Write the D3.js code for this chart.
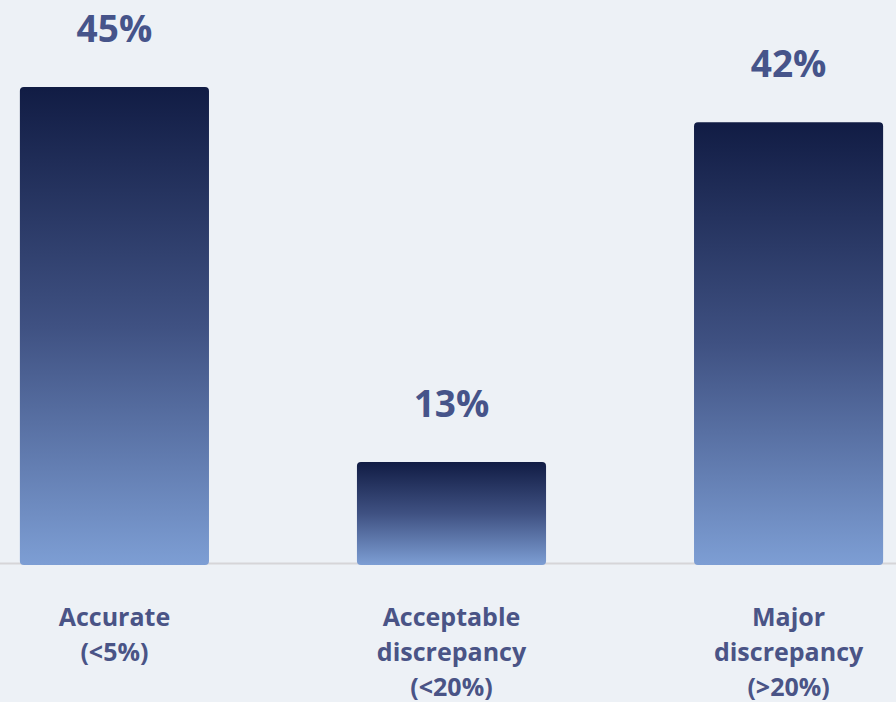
<!DOCTYPE html>
<html>
<head>
<meta charset="utf-8">
<script src="https://cdn.jsdelivr.net/npm/d3@7"></script>
<style>
  html, body { margin: 0; padding: 0; background: #edf1f6; }
  svg { display: block; }
  .value { font-family: "Open Sans", Lato, sans-serif; font-weight: 700; fill: #46548a; }
  .cat { font-family: "Open Sans", Lato, sans-serif; font-weight: 700; fill: #4a5486; }
</style>
</head>
<body>
<script>
var width = 896;
var height = 702;

// data
var categories = ["Accurate", "Acceptable discrepancy", "Major discrepancy"];
var values = [45, 13, 42];
var valueLabels = ["45%", "13%", "42%"];
var catLines = [
    ["Accurate", "(<5%)"],
    ["Acceptable", "discrepancy", "(<20%)"],
    ["Major", "discrepancy", "(>20%)"]
];

var baseline = 565;

var svg = d3.select("body")
    .append("svg")
    .attr("width", width)
    .attr("height", height);

svg.append("rect")
    .attr("width", width)
    .attr("height", height)
    .attr("fill", "#edf1f6");

var defs = svg.append("defs");
var grad = defs.append("linearGradient")
    .attr("id", "barGrad")
    .attr("x1", 0).attr("y1", 0)
    .attr("x2", 0).attr("y2", 1);
grad.append("stop").attr("offset", "0%").attr("stop-color", "#111c44");
grad.append("stop").attr("offset", "50%").attr("stop-color", "#3f5182");
grad.append("stop").attr("offset", "100%").attr("stop-color", "#7d9ed4");

var x = d3.scaleBand()
    .domain(categories)
    .range([0, 903])
    .paddingInner(0.439)
    .paddingOuter(0.059);

// the original chart's bars don't start from zero
var y = d3.scaleLinear()
    .domain([4.2, 45])
    .range([baseline, 87]);

// baseline
svg.append("line")
    .attr("x1", 0)
    .attr("x2", width)
    .attr("y1", baseline - 1.5)
    .attr("y2", baseline - 1.5)
    .attr("stroke", "#d6d5d8")
    .attr("stroke-width", 2);

svg.append("g")
    .selectAll("rect")
    .data(values)
    .enter()
    .append("rect")
    .attr("x", function (d, i) { return x(categories[i]); })
    .attr("y", function (d) { return y(d); })
    .attr("width", x.bandwidth())
    .attr("height", function (d) { return baseline - y(d); })
    .attr("rx", 4)
    .attr("fill", "url(#barGrad)");

svg.append("g")
    .selectAll("text")
    .data(values)
    .enter()
    .append("text")
    .attr("class", "value")
    .attr("x", function (d, i) { return x(categories[i]) + x.bandwidth() / 2; })
    .attr("y", function (d) { return y(d) - 45; })
    .attr("text-anchor", "middle")
    .attr("font-size", 37)
    .text(function (d, i) { return valueLabels[i]; });

var cats = svg.append("g")
    .selectAll("text")
    .data(categories)
    .enter()
    .append("text")
    .attr("class", "cat")
    .attr("text-anchor", "middle")
    .attr("font-size", 25)
    .attr("x", function (d) { return x(d) + x.bandwidth() / 2; })
    .attr("y", 626);

cats.selectAll("tspan")
    .data(function (d, i) { return catLines[i]; })
    .enter()
    .append("tspan")
    .attr("x", function () { return d3.select(this.parentNode).attr("x"); })
    .attr("dy", function (d, i) { return i === 0 ? 0 : 35; })
    .text(function (d) { return d; });
</script>
</body>
</html>
